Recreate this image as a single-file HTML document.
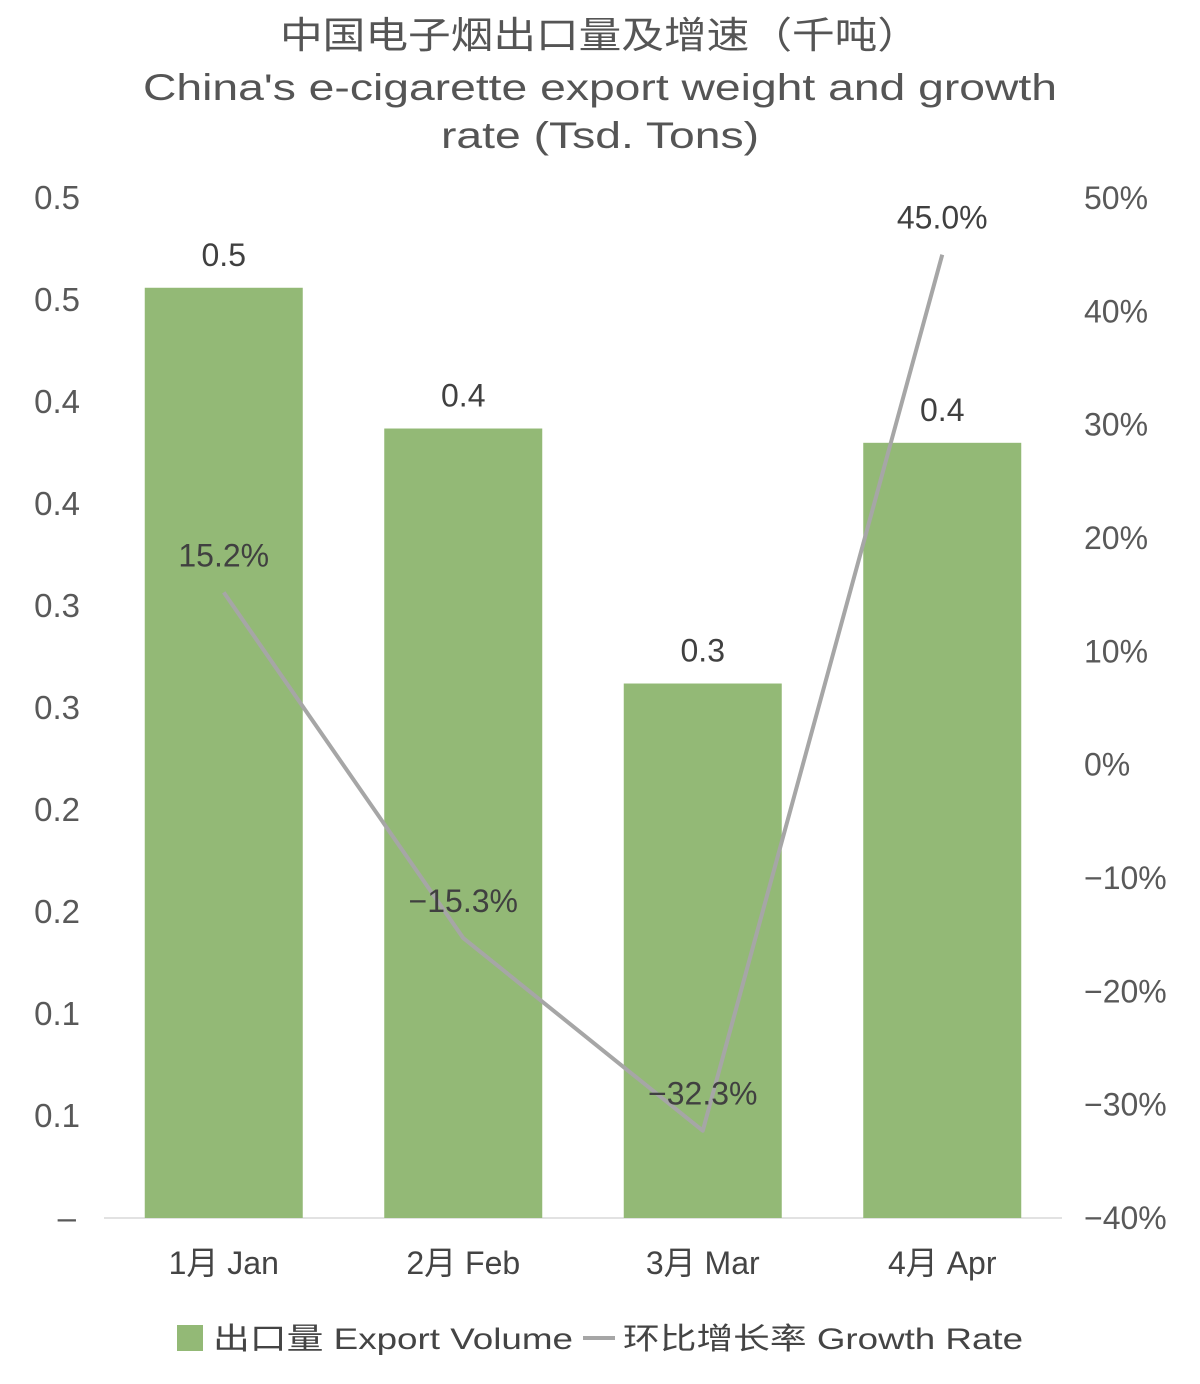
<!DOCTYPE html>
<html><head><meta charset="utf-8"><style>
html,body{margin:0;padding:0;background:#fff;}
svg{display:block;font-family:"Liberation Sans","Noto Sans CJK SC",sans-serif;}
</style></head><body>
<svg id="chart" width="1200" height="1384" viewBox="0 0 1200 1384">
<g fill="#555" font-size="37" text-anchor="middle">
<text x="600" y="48" textLength="640" lengthAdjust="spacingAndGlyphs">中国电子烟出口量及增速（千吨）</text>
<text x="600" y="100" textLength="914" lengthAdjust="spacingAndGlyphs">China's e-cigarette export weight and growth</text>
<text x="600" y="148" textLength="318" lengthAdjust="spacingAndGlyphs">rate (Tsd. Tons)</text>
</g>
<g id="plot"></g>
<g font-size="30" fill="#444">
<rect x="177" y="1325" width="26" height="26" fill="#93b976"/>
<text x="213" y="1349" textLength="360" lengthAdjust="spacingAndGlyphs">出口量 Export Volume</text>
<line x1="583" y1="1338" x2="615" y2="1338" stroke="#a6a6a6" stroke-width="4"/>
<text x="623" y="1349" textLength="400" lengthAdjust="spacingAndGlyphs">环比增长率 Growth Rate</text>
</g>
</svg>
<script>
const categories=["1月 Jan","2月 Feb","3月 Mar","4月 Apr"];
const volumes=[0.456,0.387,0.262,0.380];
const volumeLabels=["0.5","0.4","0.3","0.4"];
const growth=[15.2,-15.3,-32.3,45.0];
const growthLabels=["15.2%","−15.3%","−32.3%","45.0%"];
const leftTicks=[0,0.05,0.1,0.15,0.2,0.25,0.3,0.35,0.4,0.45,0.5];
const leftTickLabels=["–","0.1","0.1","0.2","0.2","0.3","0.3","0.4","0.4","0.5","0.5"];
const rightTicks=[-40,-30,-20,-10,0,10,20,30,40,50];

const NS="http://www.w3.org/2000/svg";
const plotG=document.getElementById('plot');
const yTop=198,yBot=1218,xLeft=104,xRight=1062;
const yL=v=>yBot-(v/0.5)*(yBot-yTop);
const yR=v=>yBot-((v+40)/90)*(yBot-yTop);
const band=(xRight-xLeft)/categories.length;
const xC=i=>xLeft+band*(i+0.5);
function mk(t,a){const e=document.createElementNS(NS,t);for(const k in a)e.setAttribute(k,a[k]);plotG.appendChild(e);return e;}

leftTicks.forEach((t,i)=>{const e=mk('text',{x:t===0?76:80,y:yL(t)+11,'text-anchor':'end','font-size':33,fill:'#595959'});e.textContent=leftTickLabels[i];

});
rightTicks.forEach(t=>{const e=mk('text',{x:1084,y:yR(t)+11,'font-size':32,fill:'#595959'});e.textContent=(t<0?'−':'')+Math.abs(t)+'%';

});

const ax=mk('line',{x1:xLeft,y1:yBot,x2:xRight,y2:yBot,stroke:'#d9d9d9','stroke-width':1.5});



const bw=158;
volumes.forEach((v,i)=>{
const r=mk('rect',{x:xC(i)-bw/2,y:yL(v),width:bw,height:yBot-yL(v),fill:'#93b976'});


const t=mk('text',{x:xC(i),y:yL(v)-22,'text-anchor':'middle','font-size':32,fill:'#404040'});t.textContent=volumeLabels[i];


const c=mk('text',{x:xC(i),y:1274,'text-anchor':'middle','font-size':32,fill:'#444'});c.textContent=categories[i];


});

const pts=growth.map((v,i)=>xC(i)+','+yR(v)).join(' ');
const pl=mk('polyline',{points:pts,fill:'none',stroke:'#a6a6a6','stroke-width':4,'stroke-linejoin':'round'});


growth.forEach((v,i)=>{
const t=mk('text',{x:xC(i),y:yR(v)-26,'text-anchor':'middle','font-size':32,fill:'#404040'});t.textContent=growthLabels[i];


});
</script>
</body></html>
